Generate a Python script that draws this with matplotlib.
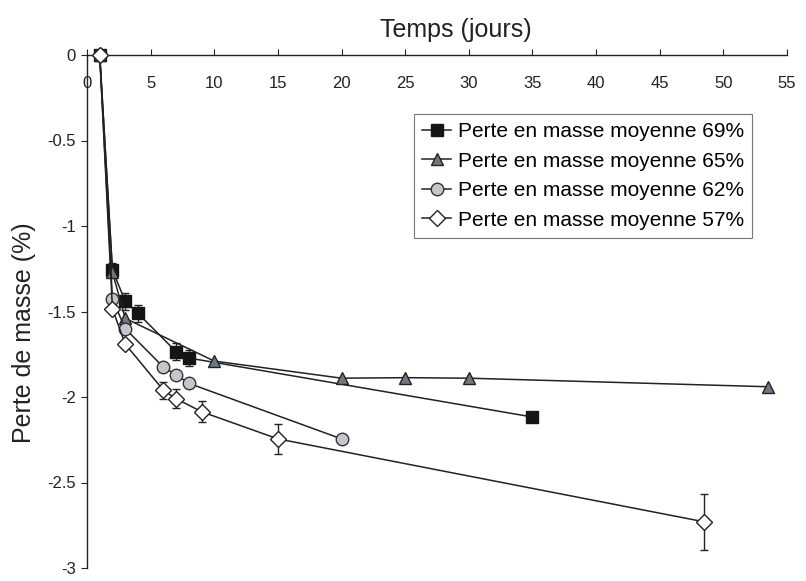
import matplotlib.pyplot as plt
from matplotlib.ticker import FuncFormatter

plt.rcParams['font.family'] = ['Liberation Sans', 'DejaVu Sans']
plt.rcParams['axes.unicode_minus'] = False

# series data (days, mass loss %)
days_69 = [1, 2, 3, 4, 7, 8, 35]
loss_69 = [0, -1.257, -1.44, -1.51, -1.735, -1.772, -2.117]
err_69 = [0, 0.04, 0.05, 0.05, 0.05, 0.047, 0.02]

days_65 = [1, 2, 3, 10, 20, 25, 30, 53.5]
loss_65 = [0, -1.27, -1.54, -1.79, -1.89, -1.887, -1.89, -1.94]

days_62 = [1, 2, 3, 6, 7, 8, 20]
loss_62 = [0, -1.427, -1.60, -1.825, -1.87, -1.92, -2.245]

days_57 = [1, 2, 3, 6, 7, 9, 15, 48.5]
loss_57 = [0, -1.485, -1.69, -1.96, -2.01, -2.086, -2.245, -2.73]
err_57 = [0, 0, 0, 0.05, 0.055, 0.06, 0.09, 0.165]

labels = ['Perte en masse moyenne 69%', 'Perte en masse moyenne 65%',
          'Perte en masse moyenne 62%', 'Perte en masse moyenne 57%']

x_ticks = list(range(0, 56, 5))
y_ticks = [0, -0.5, -1, -1.5, -2, -2.5, -3]

line_col = '#222222'

fig = plt.figure(figsize=(8.06, 5.81), dpi=100)
ax = fig.add_axes([87 / 806, 1 - 568 / 581, 700 / 806, 513 / 581])

ebkw = dict(fmt='none', ecolor=line_col, elinewidth=1.0, capsize=3.2, capthick=1.0, zorder=2, clip_on=False)
ax.errorbar(days_69, loss_69, yerr=err_69, **ebkw)
ax.errorbar(days_57, loss_57, yerr=err_57, **ebkw)

ax.plot(days_69, loss_69, '-s', color=line_col, lw=1.1, ms=9, mfc='#151515', mec='#151515',
        label=labels[0], zorder=3, clip_on=False)
ax.plot(days_65, loss_65, '-^', color=line_col, lw=1.1, ms=9, mfc='#6d7880', mec='#222222',
        label=labels[1], zorder=3, clip_on=False)
ax.plot(days_62, loss_62, '-o', color=line_col, lw=1.1, ms=9, mfc='#c3c6ca', mec='#333333',
        label=labels[2], zorder=3, clip_on=False)
ax.plot(days_57, loss_57, '-D', color=line_col, lw=1.1, ms=8, mfc='white', mec='#222222',
        label=labels[3], zorder=4, clip_on=False)

ax.set_xlim(0, 55)
ax.set_ylim(-3, 0)
ax.set_xticks(x_ticks)
ax.set_yticks(y_ticks)
ax.yaxis.set_major_formatter(FuncFormatter(lambda v, p: '%g' % v))

ax.spines['bottom'].set_position(('data', 0))
ax.spines['top'].set_visible(False)
ax.spines['right'].set_visible(False)
for s in ('bottom', 'left'):
    ax.spines[s].set_color('#222222')
    ax.spines[s].set_linewidth(1.0)

ax.tick_params(axis='x', direction='in', length=4, pad=15, labelsize=12, colors='#222222')
ax.tick_params(axis='y', direction='out', length=4, pad=4, labelsize=12, colors='#222222')

fig.text(456 / 806, 1 - 30 / 581, 'Temps (jours)', fontsize=18, ha='center', va='center', color='#222222')
fig.text(24 / 806, 1 - 333 / 581, 'Perte de masse (%)', fontsize=18, rotation=90,
         ha='center', va='center', color='#222222')

leg = ax.legend(loc='upper right', bbox_to_anchor=(0.95, 0.885), borderaxespad=0,
                fontsize=15, frameon=True, fancybox=False, handlelength=1.4,
                handletextpad=0.3, labelspacing=0.5, borderpad=0.4)
leg.get_frame().set_edgecolor('#555555')
leg.get_frame().set_linewidth(0.8)

fig.savefig('out.png', dpi=100)
